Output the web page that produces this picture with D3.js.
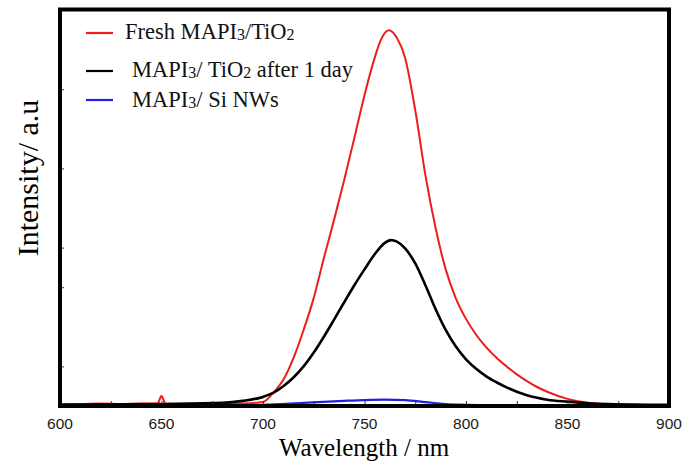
<!DOCTYPE html>
<html>
<head>
<meta charset="utf-8">
<script src="https://cdn.jsdelivr.net/npm/d3@7"></script>
<style>
  body { margin: 0; background: #fff; }
  svg { display: block; }
</style>
</head>
<body>
<div id="chart"></div>
<script>
// Fresh MAPI3/TiO2 (red)
var freshNm = [600, 610, 620, 630, 640, 648, 650, 652, 660, 670, 680, 690, 700, 705, 710, 715, 720, 725, 730, 735, 740, 745, 750, 755, 758, 762, 766, 770, 775, 780, 785, 790, 795, 800, 805, 810, 815, 820, 825, 830, 835, 840, 850, 860, 870, 880, 900];
var freshI  = [5, 5, 6, 5, 6, 6, 25, 6, 5, 5, 5, 6, 10, 33, 66, 121, 192, 273, 374, 470, 571, 677, 785, 879, 924, 949, 929, 879, 747, 583, 450, 345, 272, 220, 180, 148, 122, 100, 80, 63, 48, 36, 18, 8, 4, 2, 2];

// MAPI3/TiO2 after 1 day (black)
var agedNm = [600, 650, 680, 690, 700, 705, 710, 715, 720, 725, 730, 735, 740, 745, 750, 755, 760, 763, 766, 770, 775, 780, 785, 790, 795, 800, 805, 810, 815, 820, 830, 840, 850, 860, 870, 900];
var agedI  = [3, 5, 8, 13, 23, 33, 50, 72, 100, 135, 175, 218, 262, 305, 345, 383, 412, 419, 415, 398, 360, 305, 245, 192, 150, 118, 94, 75, 60, 47, 27, 16, 11, 7, 5, 3];

// MAPI3/Si NWs (blue)
var siNm = [600, 680, 700, 720, 740, 750, 760, 770, 780, 790, 800, 820, 900];
var siI  = [0, 1, 3, 8, 13, 15, 16, 15, 10, 5, 3, 1, 0];

var xTickLabels = [600, 650, 700, 750, 800, 850, 900];
var xMinorTicks = [625, 650, 675, 700, 725, 750, 775, 800, 825, 850, 875];
var yTicks = [100, 300, 400, 600, 800];

var W = 683, H = 461;

var svg = d3.select('#chart').append('svg')
    .attr('width', W)
    .attr('height', H);

var x = d3.scaleLinear().domain([600, 900]).range([60, 669]);
var y = d3.scaleLinear().domain([0, 1000]).range([406, 10]);

var line = d3.line()
    .x(function(d) { return x(d[0]); })
    .y(function(d) { return y(d[1]); })
    .curve(d3.curveMonotoneX);

var series = [
    {nm: freshNm, val: freshI, color: '#ee1c1c', w: 2},
    {nm: agedNm, val: agedI, color: '#000000', w: 2.6},
    {nm: siNm, val: siI, color: '#1e22d8', w: 2.2}
];

// zero line
svg.append('line')
    .attr('x1', x(600)).attr('x2', x(900))
    .attr('y1', y(0) - 1.5).attr('y2', y(0) - 1.5)
    .attr('stroke', '#2c6a6a').attr('stroke-width', 1.2);

series.forEach(function(s) {
    svg.append('path')
        .datum(d3.zip(s.nm, s.val))
        .attr('fill', 'none')
        .attr('stroke', s.color)
        .attr('stroke-width', s.w)
        .attr('d', line);
});

// minor ticks pointing in
var xAxis = d3.axisTop(x).tickValues(xMinorTicks).tickSize(5).tickFormat('');
svg.append('g')
    .attr('transform', 'translate(0,' + y(0) + ')')
    .call(xAxis)
    .call(function(g) { g.select('.domain').remove(); g.selectAll('line').attr('stroke', '#333'); });

var yAxis = d3.axisRight(y).tickValues(yTicks).tickSize(4).tickFormat('');
svg.append('g')
    .attr('transform', 'translate(' + x(600) + ',0)')
    .call(yAxis)
    .call(function(g) { g.select('.domain').remove(); g.selectAll('line').attr('stroke', '#333'); });

// frame
svg.append('rect')
    .attr('x', x(600)).attr('y', 9.5)
    .attr('width', x(900) - x(600))
    .attr('height', y(0) - 9.5)
    .attr('fill', 'none')
    .attr('stroke', '#000')
    .attr('stroke-width', 4);

// tick labels
svg.append('g').selectAll('text')
    .data(xTickLabels)
    .enter().append('text')
    .attr('x', function(d) { return x(d); })
    .attr('y', 429)
    .attr('text-anchor', 'middle')
    .attr('font-family', 'Liberation Sans, Arial, sans-serif')
    .attr('font-size', 15.5)
    .attr('fill', '#1a1a1a')
    .text(function(d) { return d; });

// axis titles
svg.append('text')
    .attr('x', 364).attr('y', 456)
    .attr('text-anchor', 'middle')
    .attr('font-family', 'Liberation Serif, Times New Roman, serif')
    .attr('font-size', 25)
    .text('Wavelength / nm');

svg.append('text')
    .attr('transform', 'translate(38,178) rotate(-90)')
    .attr('text-anchor', 'middle')
    .attr('font-family', 'Liberation Serif, Times New Roman, serif')
    .attr('font-size', 30)
    .text('Intensity/ a.u');

// legend
var legend = [
    {color: '#ee1c1c', ly: 33, tx: 125, ty: 39, parts: [['Fresh MAPI', 0], ['3', 1], ['/TiO', 0], ['2', 1]]},
    {color: '#000000', ly: 71, tx: 132, ty: 77, parts: [['MAPI', 0], ['3', 1], ['/ TiO', 0], ['2', 1], [' after 1 day', 0]]},
    {color: '#1e22d8', ly: 100, tx: 132, ty: 107, parts: [['MAPI', 0], ['3', 1], ['/ Si NWs', 0]]}
];

legend.forEach(function(l) {
    svg.append('line')
        .attr('x1', 86).attr('x2', 113)
        .attr('y1', l.ly).attr('y2', l.ly)
        .attr('stroke', l.color).attr('stroke-width', 2.2);
    var t = svg.append('text')
        .attr('x', l.tx).attr('y', l.ty)
        .attr('font-family', 'Liberation Serif, Times New Roman, serif')
        .attr('font-size', 22.5)
        .attr('fill', '#111');
    l.parts.forEach(function(p, i) {
        var prevSub = i > 0 && l.parts[i - 1][1];
        t.append('tspan')
            .attr('font-size', p[1] ? 16 : 22.5)
            .attr('dy', p[1] ? 1 : (prevSub ? -1 : 0))
            .text(p[0]);
    });
});
</script>
</body>
</html>
